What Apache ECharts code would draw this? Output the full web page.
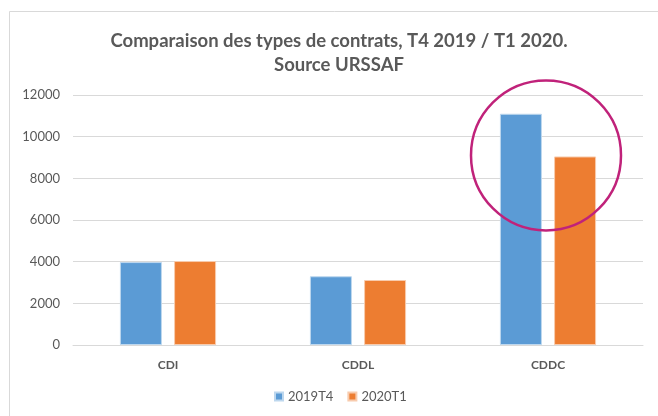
<!DOCTYPE html>
<html>
<head>
<meta charset="utf-8">
<script src="https://cdn.jsdelivr.net/npm/echarts@6/dist/echarts.min.js"></script>
<style>
  html, body { margin: 0; padding: 0; background: #fff; }
  #chart { width: 658px; height: 416px; }
</style>
</head>
<body>
<div id="chart"></div>
<script>
var categories = ['CDI', 'CDDL', 'CDDC'];
var seriesNames = ['2019T4', '2020T1'];
var values2019T4 = [3980, 3300, 11100];
var values2020T1 = [4030, 3120, 9050];
var yTicks = [0, 2000, 4000, 6000, 8000, 10000, 12000];

var grey = '#595959';
var myChart = echarts.init(document.getElementById('chart'));

var option = {
    animation: false,
    backgroundColor: '#fff',
    textStyle: { fontFamily: 'Lato' },
    title: {
        text: 'Comparaison des types de contrats, T4 2019 / T1 2020.\nSource URSSAF',
        left: 334,
        textAlign: 'center',
        top: 24,
        textStyle: {
            color: grey,
            fontSize: 18.5,
            fontWeight: 'bold',
            fontFamily: 'Lato',
            lineHeight: 24
        }
    },
    legend: {
        bottom: 8,
        left: 269,
        itemWidth: 8,
        itemHeight: 8,
        itemGap: 14,
        icon: 'rect',
        textStyle: { color: grey, fontSize: 13, fontFamily: 'Lato' },
        data: seriesNames
    },
    grid: {
        left: 73,
        right: 15,
        top: 95,
        bottom: 71
    },
    xAxis: {
        type: 'category',
        data: categories,
        axisLine: { lineStyle: { color: '#d9d9d9', width: 1 } },
        axisTick: { show: false },
        axisLabel: { color: grey, fontSize: 12, fontWeight: 'bold', margin: 14 }
    },
    yAxis: {
        type: 'value',
        min: yTicks[0],
        max: yTicks[yTicks.length - 1],
        interval: 2000,
        axisLine: { show: false },
        axisTick: { show: false },
        axisLabel: {
            color: grey,
            fontSize: 13,
            margin: 13,
            formatter: function (v) { return String(v); }
        },
        splitLine: { lineStyle: { color: '#d9d9d9', width: 1 } }
    },
    series: [
        {
            name: seriesNames[0],
            type: 'bar',
            data: values2019T4,
            barWidth: 42,
            barGap: '29%',
            itemStyle: { color: '#5b9bd5', borderColor: '#bdd7ee', borderWidth: 1 }
        },
        {
            name: seriesNames[1],
            type: 'bar',
            data: values2020T1,
            barWidth: 42,
            itemStyle: { color: '#ed7d31', borderColor: '#f8cbad', borderWidth: 1 }
        }
    ]
};

myChart.setOption(option);

// frame + annotation circle around CDDC
var c = myChart.convertToPixel({ seriesIndex: 0 }, ['CDDC', 9100]);
myChart.setOption({
    graphic: [
        {
            type: 'rect',
            shape: { x: 9.5, y: 11.5, width: 700, height: 450 },
            style: { fill: null, stroke: '#d9d9d9', lineWidth: 1 },
            silent: true,
            z: -1
        },
        {
            type: 'circle',
            shape: { cx: c[0] - 2, cy: c[1], r: 75 },
            style: { fill: null, stroke: '#c0227a', lineWidth: 2.5 },
            silent: true,
            z: 100
        }
    ]
});
</script>
</body>
</html>
